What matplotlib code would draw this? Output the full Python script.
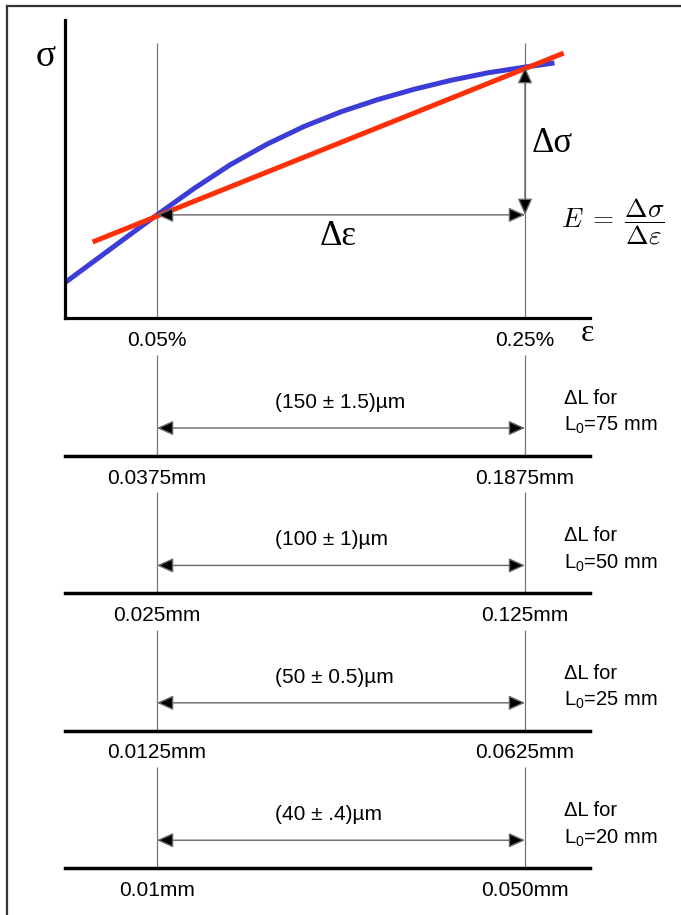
import numpy as np
import matplotlib
matplotlib.use('Agg')
import matplotlib.pyplot as plt
from matplotlib.lines import Line2D

plt.rcParams['font.family'] = ['Liberation Sans', 'DejaVu Sans']
plt.rcParams['mathtext.fontset'] = 'custom'
plt.rcParams['mathtext.rm'] = 'Liberation Sans'
plt.rcParams['mathtext.it'] = 'Liberation Sans:italic'

# strain points used for the modulus (in %)
strain_pts = [0.05, 0.25]
strain_labels = ['0.05%', '0.25%']

# stress-strain curve (strain in %, stress arbitrary 0..100)
curve_strain = [0.0005, 0.02, 0.04, 0.05, 0.07, 0.09, 0.11, 0.13,
                0.15, 0.17, 0.19, 0.21, 0.23, 0.25, 0.266]
curve_stress = [12.1, 21.0, 30.1, 34.6, 43.4, 51.5, 58.4, 64.3,
                69.2, 73.3, 76.8, 79.8, 82.3, 84.2, 85.6]

# secant line (red)
secant_strain = [0.015, 0.271]
secant_stress = [25.5, 88.9]

# extensometer readings for each gauge length
gauge_lengths = [75, 50, 25, 20]
dl_text = ['(150 ± 1.5)µm', '(100 ± 1)µm', '(50 ± 0.5)µm', '(40 ± .4)µm']
dl_left = ['0.0375mm', '0.025mm', '0.0125mm', '0.01mm']
dl_right = ['0.1875mm', '0.125mm', '0.0625mm', '0.050mm']

W, H = 681, 915
fig = plt.figure(figsize=(W / 100, H / 100), dpi=100)

def px_box(left, top, right, bottom):
    return [left / W, 1 - bottom / H, (right - left) / W, (bottom - top) / H]

xmax = 0.2853
serif = ['Liberation Serif', 'DejaVu Serif']
arrow_kw = dict(arrowstyle='<|-|>,head_length=1.0,head_width=0.45',
                fc='black', ec='#666666', lw=1.0, shrinkA=0, shrinkB=0)

# --- top plot: stress-strain ---
ax = fig.add_axes(px_box(65, 20, 590, 318))
ax.set_xlim(0, xmax)
ax.set_ylim(0, 100)
for s in ['top', 'right']:
    ax.spines[s].set_visible(False)
for s in ['left', 'bottom']:
    ax.spines[s].set_linewidth(2.3)
    ax.spines[s].set_color('black')
ax.set_yticks([])
ax.set_xticks(strain_pts)
ax.set_xticklabels(strain_labels, fontsize=15)
ax.tick_params(axis='x', length=0, pad=9)

ax.vlines(strain_pts, 0, 92.3, color='#777777', lw=0.9)
ax.plot(curve_strain, curve_stress, color='#3c3cd6', lw=3.6,
        solid_capstyle='butt', solid_joinstyle='round')
ax.plot(secant_strain, secant_stress, color='#ff3008', lw=3.6, solid_capstyle='butt')

s1 = np.interp(strain_pts[0], curve_strain, curve_stress)
s2 = np.interp(strain_pts[1], curve_strain, curve_stress)
ax.annotate('', xy=(strain_pts[0], s1), xytext=(strain_pts[1], s1), arrowprops=arrow_kw)
ax.annotate('', xy=(strain_pts[1], s1), xytext=(strain_pts[1], s2), arrowprops=arrow_kw)

ax.text(0.2535, 58.4, 'Δσ', fontsize=25, family=serif, ha='left', va='center')
ax.text(0.1484, 27.5, 'Δε', fontsize=25, family=serif, ha='center', va='center')
ax.text(-0.0103, 87.6, 'σ', fontsize=27, family=serif, ha='center', va='center', clip_on=False)
ax.text(0.2837, -5.2, 'ε', fontsize=23, family=serif, ha='center', va='center', clip_on=False)
ax.text(0.2975, 32.2, r'$E\;=\;\dfrac{\Delta\sigma}{\Delta\varepsilon}$', fontsize=19.5,
        math_fontfamily='cm', ha='center', va='center', clip_on=False)

# --- lower panels: elongation for each gauge length ---
for i, L0 in enumerate(gauge_lengths):
    bottom = 456 + 137.4 * i
    a = fig.add_axes(px_box(65, bottom - 101, 590, bottom))
    a.set_xlim(0, xmax)
    a.set_ylim(0, 1)
    for s in ['top', 'right', 'left']:
        a.spines[s].set_visible(False)
    a.spines['bottom'].set_linewidth(2.5)
    a.set_yticks([])
    a.set_xticks(strain_pts)
    a.set_xticklabels([dl_left[i], dl_right[i]], fontsize=15)
    a.tick_params(axis='x', length=0, pad=9)
    a.vlines(strain_pts, 0, 1, color='#777777', lw=0.9)
    a.annotate('', xy=(strain_pts[0], 0.277), xytext=(strain_pts[1], 0.277), arrowprops=arrow_kw)
    a.text(0.114, 0.53, dl_text[i], fontsize=15, ha='left', va='center')
    a.text(0.271, 0.57, 'ΔL for', fontsize=14.5, ha='left', va='center', clip_on=False)
    a.text(0.271, 0.30, 'L$_0$=%d mm' % L0, fontsize=14.5, ha='left', va='center', clip_on=False)

# frame lines at top and left edge
fig.add_artist(Line2D([6.5 / W, 1], [1 - 5.5 / H] * 2, transform=fig.transFigure, color='#333333', lw=1.6))
fig.add_artist(Line2D([6.5 / W] * 2, [0, 1 - 5.5 / H], transform=fig.transFigure, color='#333333', lw=1.6))

fig.savefig('out.png', dpi=100)
